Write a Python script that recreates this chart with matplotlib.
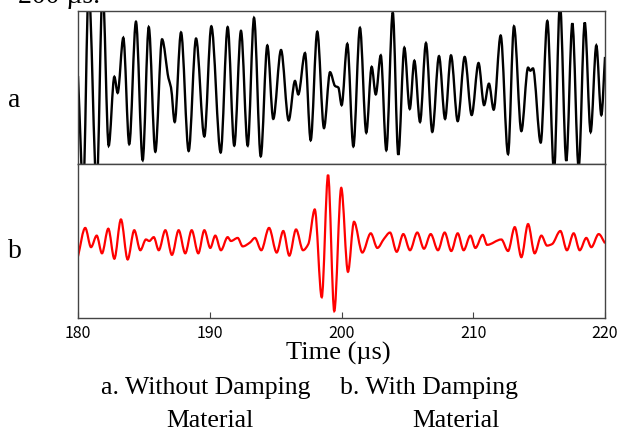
import numpy as np
import matplotlib
matplotlib.use('Agg')
import matplotlib.pyplot as plt
from matplotlib.path import Path
from matplotlib.patches import PathPatch

# peaks / troughs: time (us), relative amplitude
t_a = [180.00, 180.40, 180.81, 181.42, 181.87, 182.33, 182.76, 183.01, 183.44, 183.89,
       184.40, 184.91, 185.37, 185.87, 186.38, 186.87, 187.06, 187.34, 187.82, 188.40,
       188.96, 189.59, 190.12, 190.83, 191.36, 191.86, 192.37, 192.88, 193.36, 193.87,
       194.37, 194.82, 195.41, 195.99, 196.47, 196.72, 197.23, 197.66, 198.16, 198.67,
       199.13, 199.51, 199.76, 200.01, 200.44, 200.90, 201.40, 201.88, 202.29, 202.60,
       202.98, 203.40, 203.89, 204.31, 204.77, 205.18, 205.53, 205.96, 206.41, 206.89,
       207.40, 207.86, 208.31, 208.82, 209.35, 209.88, 210.40, 210.82, 211.19, 211.55,
       212.08, 212.64, 213.09, 213.65, 214.16, 214.33, 214.53, 215.12, 215.62, 216.13,
       216.58, 217.06, 217.52, 218.00, 218.46, 218.91, 219.34, 219.72, 220.00]
a_a = [0.15, -1.30, 1.30, -1.30, 1.30, -0.76, 0.14, -0.07, 0.65, -0.74,
       0.86, -0.95, 0.79, -0.84, 0.63, 0.12, 0.00, -0.45, 0.72, -0.83,
       0.64, -0.64, 0.80, -0.85, 0.79, -0.76, 0.74, -0.76, 0.91, -0.90,
       0.55, -0.41, 0.49, -0.43, 0.085, -0.09, 0.45, -0.69, 0.73, -0.53,
       0.20, 0.02, 0.00, -0.23, 0.57, -0.77, 0.78, -0.59, 0.27, -0.09,
       0.42, -0.82, 0.98, -0.88, 0.52, -0.28, 0.35, -0.45, 0.58, -0.58,
       0.41, -0.41, 0.42, -0.44, 0.40, -0.36, 0.32, -0.23, 0.05, -0.29,
       0.68, -0.87, 0.80, -0.57, 0.26, 0.22, 0.25, -0.72, 0.87, -1.10,
       1.10, -0.96, 0.84, -1.05, 0.85, -0.58, 0.55, -0.36, 0.40]

t_b = [180.00, 180.55, 180.99, 181.42, 181.82, 182.30, 182.76, 183.26, 183.77, 184.27,
       184.73, 185.16, 185.41, 185.75, 186.13, 186.63, 187.13, 187.64, 188.14, 188.63,
       189.13, 189.59, 190.04, 190.42, 190.85, 191.36, 191.61, 192.12, 192.50, 193.05,
       193.43, 193.91, 194.50, 195.08, 195.58, 196.04, 196.55, 197.08, 197.48, 197.97,
       198.50, 198.98, 199.45, 199.98, 200.49, 200.95, 201.58, 202.22, 202.72, 203.23,
       203.68, 204.19, 204.69, 205.20, 205.75, 206.26, 206.77, 207.32, 207.83, 208.33,
       208.82, 209.27, 209.78, 210.16, 210.72, 211.05, 212.13, 212.64, 213.15, 213.65,
       214.16, 214.66, 215.17, 215.60, 215.98, 216.61, 217.11, 217.62, 218.08, 218.58,
       218.96, 219.52, 220.00]
a_b = [-0.20, 0.17, -0.08, 0.07, -0.16, 0.16, -0.23, 0.28, -0.24, 0.14,
       -0.12, 0.02, 0.00, 0.05, -0.12, 0.14, -0.18, 0.14, -0.16, 0.14,
       -0.16, 0.14, -0.09, 0.07, -0.12, 0.05, 0.00, 0.04, -0.07, -0.02,
       0.04, -0.12, 0.17, -0.15, 0.13, -0.19, 0.15, -0.12, -0.04, 0.41,
       -0.73, 0.86, -0.91, 0.69, -0.40, 0.25, -0.15, 0.10, -0.09, 0.03,
       0.11, -0.14, 0.09, -0.12, 0.11, -0.10, 0.09, -0.12, 0.11, -0.13,
       0.10, -0.12, 0.07, -0.09, 0.08, -0.05, 0.02, -0.13, 0.18, -0.21,
       0.22, -0.16, 0.07, -0.06, -0.04, 0.13, -0.12, 0.10, -0.12, 0.04,
       -0.08, 0.09, -0.03]

xticks = [180, 190, 200, 210, 220]


def wave_path(t, y):
    # smooth curve through the read points (monotone cubic as bezier segments)
    t = np.asarray(t, float)
    y = np.asarray(y, float)
    h = np.diff(t)
    d = np.diff(y) / h
    m = np.zeros_like(y)
    for k in range(1, len(y) - 1):
        if d[k - 1] * d[k] > 0:
            w1 = 2 * h[k] + h[k - 1]
            w2 = h[k] + 2 * h[k - 1]
            m[k] = (w1 + w2) / (w1 / d[k - 1] + w2 / d[k])
    m[0] = d[0]
    m[-1] = d[-1]
    verts = [(t[0], y[0])]
    codes = [Path.MOVETO]
    for k in range(len(h)):
        verts += [(t[k] + h[k] / 3, y[k] + m[k] * h[k] / 3),
                  (t[k + 1] - h[k] / 3, y[k + 1] - m[k + 1] * h[k] / 3),
                  (t[k + 1], y[k + 1])]
        codes += [Path.CURVE4] * 3
    return Path(verts, codes)


fig = plt.figure(figsize=(6.18, 4.28), dpi=100)
ax1 = fig.add_axes([0.1262, 0.6168, 0.8528, 0.3575])
ax2 = fig.add_axes([0.1262, 0.2570, 0.8528, 0.3598])

ax1.add_patch(PathPatch(wave_path(t_a, a_a), fill=False, edgecolor='black', lw=1.7))
ax2.add_patch(PathPatch(wave_path(t_b, a_b), fill=False, edgecolor='#ff0000', lw=1.6))

for ax in (ax1, ax2):
    ax.set_xlim(180, 220)
    ax.set_ylim(-1, 1)
    ax.set_yticks([])
    for s in ax.spines.values():
        s.set_color('#444444')
        s.set_linewidth(1.0)

ax1.set_xticks([])
ax2.set_xticks(xticks)
ax2.tick_params(axis='x', direction='in', length=4.5, width=0.8, color='#444444', pad=5)
for lab in ax2.get_xticklabels():
    lab.set_family(['Noto Sans CJK JP', 'DejaVu Sans'])
    lab.set_fontsize(11.5)

serif = 'Liberation Serif'
fig.text(18 / 618, 1 - 3 / 428, '200 µs.', family=serif, fontsize=20, va='baseline')
fig.text(8 / 618, 1 - 107 / 428, 'a', family=serif, fontsize=20, va='baseline')
fig.text(8 / 618, 1 - 258 / 428, 'b', family=serif, fontsize=20, va='baseline')
fig.text(338 / 618, 1 - 360 / 428, 'Time (µs)', family=serif, fontsize=19,
         ha='center', va='baseline')
fig.text(206 / 618, 1 - 394 / 428, 'a. Without Damping', family=serif, fontsize=18.5,
         ha='center', va='baseline')
fig.text(429 / 618, 1 - 394 / 428, 'b. With Damping', family=serif, fontsize=18.5,
         ha='center', va='baseline')
fig.text(210 / 618, 1 - 427 / 428, 'Material', family=serif, fontsize=18.5,
         ha='center', va='baseline')
fig.text(456 / 618, 1 - 427 / 428, 'Material', family=serif, fontsize=18.5,
         ha='center', va='baseline')

fig.savefig('out.png', dpi=100)
